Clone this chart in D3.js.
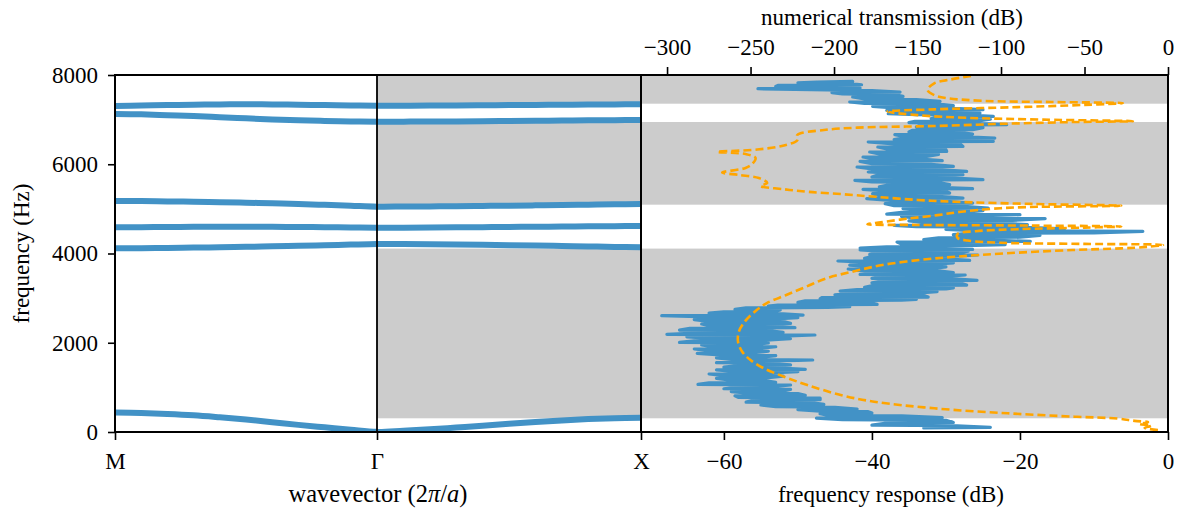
<!DOCTYPE html>
<html><head><meta charset="utf-8">
<script src="https://cdn.jsdelivr.net/npm/d3@7"></script>
<style>
body{margin:0;background:#fff}
text{font-family:"Liberation Serif","Times New Roman",serif;fill:#000}
</style>
</head><body><svg id="c" width="1183" height="512"></svg>
<script>
// ---------- data ----------
const freqTicks=[0,2000,4000,6000,8000];
const kTickPos=[0,1,2];
const kTickLabels=["M","Γ","X"];
const respTicks=[-60,-40,-20,0];
const transTicks=[-300,-250,-200,-150,-100,-50,0];
const bandGaps=[[307,4110],[5094,6947],[7357,8000]];

const bandK=[0,0.1,0.2,0.3,0.4,0.5,0.6,0.7,0.8,0.9,1,1.1,1.2,1.3,1.4,1.5,1.6,1.7,1.8,1.9,2];
const band1=[435,425,405,375,330,280,220,160,105,50,3, 30,60,100,140,185,225,260,290,310,320];
const band2=[4117,4120,4125,4132,4140,4150,4160,4172,4185,4200,4213, 4212,4208,4202,4195,4187,4178,4168,4158,4148,4140];
const band3=[4587,4590,4594,4597,4599,4600,4598,4594,4589,4583,4578, 4579,4582,4586,4591,4596,4600,4604,4608,4612,4616];
const band4=[5176,5174,5168,5160,5150,5139,5125,5108,5090,5070,5050, 5052,5056,5060,5066,5072,5079,5086,5094,5102,5109];
const band5=[7126,7118,7100,7080,7055,7029,7005,6985,6970,6960,6954, 6955,6957,6960,6964,6969,6974,6979,6984,6988,6992];
const band6=[7305,7315,7325,7333,7340,7343,7340,7333,7325,7318,7312, 7313,7315,7318,7322,7326,7330,7334,7338,7341,7344];

// frequency response (dB): per frequency row, low and high excursion
const respFreq=[90,140,200,260,310,360,410,455,500,555,605,655,710,760,810,860,905,955,1005,1053,1100,1150,1203,1250,1300,1350,1390,1440,1490,1540,1590,1613,1660,1710,1763,1810,1860,1910,1950,1994,2040,2090,2130,2174,2220,2270,2323,2370,2420,2472,2520,2560,2606,2650,2690,2734,2780,2810,2846,2890,2940,2970,3010,3060,3100,3144,3190,3230,3279,3330,3384,3430,3470,3518,3560,3610,3653,3700,3740,3790,3832,3880,3930,3966,4010,4050,4078,4108,4150,4200,4258,4300,4350,4407,4450,4497,4540,4590,4631,4680,4730,4780,4830,4870,4920,4960,5004,5060,5116,5170,5228,5280,5340,5390,5438,5480,5528,5590,5640,5700,5752,5790,5826,5880,5938,6000,6066,6110,6162,6220,6274,6330,6386,6440,6499,6540,6573,6620,6663,6710,6760,6820,6872,6920,6962,7010,7059,7100,7133,7170,7208,7250,7298,7350,7395,7450,7507,7560,7604,7650,7693,7730,7768,7810,7843];
const respLo=[-33,-40,-38,-44,-47.5,-46,-47,-47,-50,-53,-55,-57,-56,-58,-58.5,-57,-59,-60,-58,-63.5,-62,-59,-61,-60,-62,-59,-61,-60,-58,-61,-58,-59,-61,-60,-63.6,-62,-64,-62,-63,-66,-64,-62,-65,-67.7,-63,-66,-64.6,-62,-63,-62.3,-64,-61,-68.4,-62,-60,-58.5,-57,-54,-52.7,-50,-49,-47,-46.8,-45,-43,-44.3,-42,-41,-39.9,-40,-38.5,-40,-39,-41.6,-40,-42,-43.2,-41,-43,-41,-44.6,-41,-40,-40.3,-39,-40,-41.6,-41.6,-38,-36,-36.6,-33,-31,-29,-27,-26.4,-30,-34,-37,-33,-35,-34,-36,-38,-36,-33,-35.8,-37,-38.2,-37,-40.7,-39,-39.9,-38,-41.2,-39,-38,-40,-42.3,-40,-39.3,-38,-40.5,-40,-42,-40,-41.6,-40,-41.2,-39,-40.3,-38,-39.2,-37,-40.5,-37,-36.2,-36,-36.9,-35,-34.5,-34,-33.5,-35,-34.2,-32,-30.8,-34,-37.8,-36,-38,-37,-39.9,-41,-43,-41,-42.6,-44,-45.4,-46,-55.4,-53,-52.7,-50,-47.4];
const respHi=[-24,-28.5,-29,-30,-30.5,-36,-40,-40.5,-42,-45,-46.5,-48,-47,-47,-49,-50,-52,-51,-53,-51,-53,-54.5,-54,-52,-55,-50,-49,-53,-51,-54,-50,-48,-55,-53,-56,-54,-55,-53,-56,-54,-55,-51,-53,-47.7,-52,-54,-50.4,-53,-51,-51.8,-53,-50,-49.3,-52,-53,-52.4,-46,-43,-39.3,-40,-36,-34,-32.4,-33,-34,-31.2,-30,-29,-27.2,-28,-25.8,-29,-30,-27.4,-29,-31,-31.8,-30,-32,-29,-26.8,-30,-28,-25.7,-28,-27,-26.4,-33.9,-30,-22,-18.6,-24,-20,-17.3,-10,-3.4,-14,-20,-19,-23,-21,-16.6,-26,-20,-27,-25,-24.3,-28,-26.4,-30,-27.7,-31,-29.5,-30,-26.4,-31,-29.5,-31,-25,-30,-27.7,-31,-27.2,-31,-29,-32,-30.5,-33,-32.6,-31,-29.9,-30,-27.7,-28,-23.6,-27,-23.4,-28,-26.4,-28,-26.4,-25,-21.8,-27,-25.4,-24,-23.6,-27,-25.4,-27,-25,-29,-29,-31,-30.8,-34,-35.8,-37,-36.2,-40,-41.6,-45,-41.4,-43,-42.6];

// numerical transmission (dB)
const transFreq=[45,90,140,180,220,250,300,343,419,531,679,829,1053,1240,1427,1613,1800,2024,2248,2472,2696,2883,3070,3257,3444,3593,3742,3854,3929,4004,4078,4115,4150,4190,4215,4240,4290,4350,4440,4500,4545,4580,4605,4625,4640,4655,4700,4780,4860,4930,5000,5040,5071,5110,5160,5200,5270,5330,5380,5440,5513,5580,5692,5760,5815,5916,6006,6140,6230,6275,6330,6420,6540,6655,6767,6820,6857,6909,6947,6965,7000,7040,7100,7180,7230,7280,7330,7370,7395,7420,7480,7550,7664,7813,7900,7980];
const transDb=[-6,-14,-10,-17,-12,-20,-30,-56,-96,-140,-176,-196,-216,-230,-242,-250,-255,-257.5,-257,-253.5,-247.5,-240.5,-228.6,-216.6,-204.6,-189,-171,-149,-127,-97,-57,-28,-12,-3,-50,-100,-120,-126,-126,-115,-90,-50,-28,-80,-150,-180,-172,-156,-138,-125,-106,-85,-28,-80,-128,-150,-175,-195,-215,-230,-244,-240,-245,-257,-267,-253,-249,-247,-253,-270,-246,-230,-222,-222,-206,-186,-140,-96,-56,-21,-75,-120,-150,-168,-140,-90,-50,-27,-70,-110,-132,-140,-144,-140,-130,-118];

// ---------- layout ----------
const W=1183,H=512;
const L=115,G=377,XR=641,R=1168,T=75,B=432;
const FS=23, TFS=23;
const blue="#4292c6", orange="#ffa500", gray="#cccccc";

const svg=d3.select("#c");
svg.append("rect").attr("width",W).attr("height",H).attr("fill","#fff");

const y=d3.scaleLinear().domain([0,8000]).range([B,T]);
const xk=d3.scaleLinear().domain([0,1,2]).range([L,G,XR]);
const xr=d3.scaleLinear().domain([-71.2,0]).range([XR,R]);
const xt=d3.scaleLinear().domain([-315.6,0]).range([XR,R]);

const defs=svg.append("defs");
defs.append("clipPath").attr("id","clipL").append("rect").attr("x",L).attr("y",T).attr("width",XR-L).attr("height",B-T);
defs.append("clipPath").attr("id","clipR").append("rect").attr("x",XR).attr("y",T).attr("width",R-XR).attr("height",B-T);

// band gaps shading
const gL=svg.append("g").attr("clip-path","url(#clipL)");
const gR=svg.append("g").attr("clip-path","url(#clipR)");
bandGaps.forEach(([lo,hi])=>{
  gL.append("rect").attr("x",G).attr("width",XR-G).attr("y",y(hi)).attr("height",y(lo)-y(hi)).attr("fill",gray);
  gR.append("rect").attr("x",XR).attr("width",R-XR).attr("y",y(hi)).attr("height",y(lo)-y(hi)).attr("fill",gray);
});

// dispersion bands
const bandLine=d3.line().x((d,i)=>xk(bandK[i])).y(d=>y(d)).curve(d3.curveCatmullRom.alpha(0.5));
[band1,band2,band3,band4,band5,band6].forEach(b=>{
  gL.append("path").attr("d",bandLine(b)).attr("fill","none").attr("stroke",blue)
    .attr("stroke-width",6).attr("stroke-linecap","round").attr("stroke-linejoin","round");
});

// frequency response zigzag
const respPts=[];
respFreq.forEach((f,i)=>{
  if(i%2===0){respPts.push([respLo[i],f]);respPts.push([respHi[i],f+14]);}
  else{respPts.push([respHi[i],f]);respPts.push([respLo[i],f+14]);}
});
gR.append("path").attr("d",d3.line().x(d=>xr(d[0])).y(d=>y(d[1]))(respPts))
  .attr("fill","none").attr("stroke",blue).attr("stroke-width",3.2).attr("stroke-linejoin","round").attr("stroke-linecap","round");

// numerical transmission
const transLine=d3.line().x((d,i)=>xt(d)).y((d,i)=>y(transFreq[i])).curve(d3.curveCatmullRom.alpha(0.5));
gR.append("path").attr("d",transLine(transDb)).attr("fill","none").attr("stroke",orange)
  .attr("stroke-width",2.6).attr("stroke-dasharray","8,4");

// frames
svg.append("rect").attr("x",L).attr("y",T).attr("width",XR-L).attr("height",B-T).attr("fill","none").attr("stroke","#000").attr("stroke-width",2);
svg.append("rect").attr("x",XR).attr("y",T).attr("width",R-XR).attr("height",B-T).attr("fill","none").attr("stroke","#000").attr("stroke-width",2);
svg.append("line").attr("x1",G).attr("x2",G).attr("y1",T).attr("y2",B).attr("stroke","#000").attr("stroke-width",1.8);

function styleAxis(g){
  g.select(".domain").remove();
  g.selectAll(".tick line").attr("stroke","#000").attr("stroke-width",1.6);
  g.selectAll(".tick text").attr("font-size",FS).attr("font-family","Liberation Serif");
}
// left axis
svg.append("g").attr("transform",`translate(${L},0)`)
  .call(d3.axisLeft(y).tickValues(freqTicks).tickFormat(d3.format("d")).tickSize(7).tickPadding(10))
  .call(styleAxis);
// bottom k axis
svg.append("g").attr("transform",`translate(0,${B})`)
  .call(d3.axisBottom(xk).tickValues(kTickPos).tickFormat((d,i)=>kTickLabels[i]).tickSize(8).tickPadding(13))
  .call(styleAxis);
// bottom response axis
svg.append("g").attr("transform",`translate(0,${B})`)
  .call(d3.axisBottom(xr).tickValues(respTicks).tickFormat(d3.format("d")).tickSize(8).tickPadding(13))
  .call(styleAxis);
// top transmission axis
svg.append("g").attr("transform",`translate(0,${T})`)
  .call(d3.axisTop(xt).tickValues(transTicks).tickFormat(d3.format("d")).tickSize(8).tickPadding(12))
  .call(styleAxis);

// titles
svg.append("text").attr("x",892).attr("y",25).attr("text-anchor","middle").attr("font-size",TFS).text("numerical transmission (dB)");
svg.append("text").attr("x",891).attr("y",502).attr("text-anchor","middle").attr("font-size",TFS).text("frequency response (dB)");
const wv=svg.append("text").attr("x",(L+XR)/2).attr("y",502).attr("text-anchor","middle").attr("font-size",TFS+1.5);
wv.append("tspan").text("wavevector (2");
wv.append("tspan").attr("font-style","italic").text("π");
wv.append("tspan").text("/");
wv.append("tspan").attr("font-style","italic").text("a");
wv.append("tspan").text(")");
svg.append("text").attr("transform",`translate(29,${(T+B)/2}) rotate(-90)`).attr("text-anchor","middle").attr("font-size",TFS).text("frequency (Hz)");
</script>
</body></html>
